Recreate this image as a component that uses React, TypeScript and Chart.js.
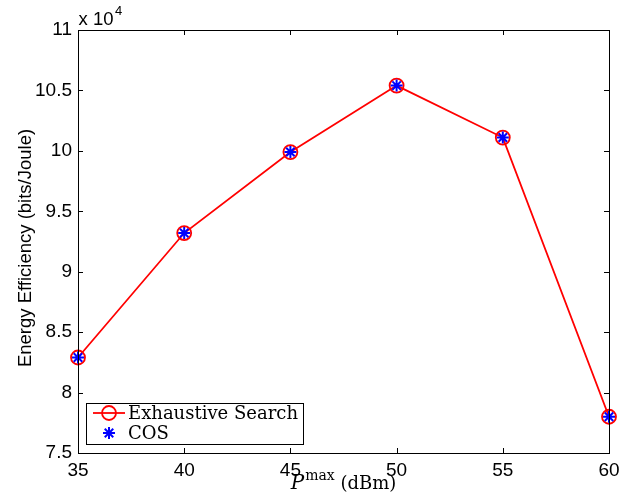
import React, { useEffect, useRef } from "react";
import { Chart, registerables } from "chart.js";

Chart.register(...registerables);

const powerLevels = [35, 40, 45, 50, 55, 60];
const exhaustiveSearch = [82900, 93200, 99900, 105400, 101100, 78000];
const cosValues = [82900, 93200, 99900, 105400, 101100, 78000];
const xTicks = [35, 40, 45, 50, 55, 60];
const yTicks = [75000, 80000, 85000, 90000, 95000, 100000, 105000, 110000];
const yTitle = "Energy Efficiency (bits/Joule)";

const SANS = "'Liberation Sans', Arial, Helvetica, sans-serif";
const SERIF = "'DejaVu Serif', serif";

function drawMarker(ctx: CanvasRenderingContext2D, style: string, r: number, x: number, y: number) {
  ctx.beginPath();
  if (style === "circle") {
    ctx.arc(x, y, r, 0, Math.PI * 2);
  } else {
    for (let k = 0; k < 4; k++) {
      const a = (k * Math.PI) / 4;
      ctx.moveTo(x - r * Math.cos(a), y - r * Math.sin(a));
      ctx.lineTo(x + r * Math.cos(a), y + r * Math.sin(a));
    }
  }
  ctx.stroke();
}

const decorPlugin = {
  id: "decor",
  afterDraw(chart: any) {
    const ctx = chart.ctx as CanvasRenderingContext2D;
    const { left, right, top, bottom } = chart.chartArea;
    const xs = chart.scales.x;
    const ys = chart.scales.y;
    ctx.save();
    ctx.strokeStyle = "#000";
    ctx.lineWidth = 1;
    ctx.strokeRect(Math.round(left) + 0.5, Math.round(top) + 0.5, Math.round(right - left), Math.round(bottom - top));
    const tl = 5;
    ctx.beginPath();
    xTicks.forEach((v) => {
      const px = Math.round(xs.getPixelForValue(v)) + 0.5;
      ctx.moveTo(px, bottom);
      ctx.lineTo(px, bottom - tl);
      ctx.moveTo(px, top);
      ctx.lineTo(px, top + tl);
    });
    yTicks.forEach((v) => {
      const py = Math.round(ys.getPixelForValue(v)) + 0.5;
      ctx.moveTo(left, py);
      ctx.lineTo(left + tl, py);
      ctx.moveTo(right, py);
      ctx.lineTo(right - tl, py);
    });
    ctx.stroke();

    // x 10^4 exponent label
    ctx.fillStyle = "#000";
    ctx.textBaseline = "alphabetic";
    ctx.textAlign = "left";
    ctx.font = `18.5px ${SANS}`;
    ctx.fillText("x 10", left + 0.5, top - 5);
    const w10 = ctx.measureText("x 10").width;
    ctx.font = `13px ${SANS}`;
    ctx.fillText("4", left + 0.5 + w10 + 1.5, top - 15);

    // y title
    ctx.save();
    ctx.translate(26, 248);
    ctx.rotate(-Math.PI / 2);
    ctx.font = `18.5px ${SANS}`;
    ctx.textAlign = "center";
    ctx.textBaseline = "middle";
    ctx.fillText(yTitle, 0, 0);
    ctx.restore();

    // x title: P^max (dBm)
    const baseY = 489;
    ctx.font = `italic 20px ${SERIF}`;
    const wP = ctx.measureText("P").width;
    ctx.font = `14px ${SERIF}`;
    const wMax = ctx.measureText("max").width;
    ctx.font = `18px ${SERIF}`;
    const wRest = ctx.measureText(" (dBm)").width;
    const total = wP + 1 + wMax + wRest;
    let x0 = (left + right) / 2 - total / 2;
    ctx.font = `italic 20px ${SERIF}`;
    ctx.fillText("P", x0, baseY);
    x0 += wP + 1;
    ctx.font = `14px ${SERIF}`;
    ctx.fillText("max", x0, baseY - 9);
    x0 += wMax;
    ctx.font = `18px ${SERIF}`;
    ctx.fillText(" (dBm)", x0, baseY);

    // legend
    const lx = 86, ly = 403, lw = 217, lh = 41;
    ctx.fillStyle = "#fff";
    ctx.fillRect(lx, ly, lw, lh);
    ctx.strokeStyle = "#000";
    ctx.lineWidth = 1;
    ctx.strokeRect(lx + 0.5, ly + 0.5, lw, lh);
    const ds = chart.data.datasets;
    const rows = [413, 433];
    ds.forEach((d: any, i: number) => {
      const cy = rows[i];
      if (d.showLine !== false) {
        ctx.strokeStyle = d.borderColor;
        ctx.lineWidth = d.borderWidth;
        ctx.beginPath();
        ctx.moveTo(93, cy);
        ctx.lineTo(125, cy);
        ctx.stroke();
      }
      ctx.strokeStyle = d.pointBorderColor;
      ctx.lineWidth = d.pointBorderWidth;
      drawMarker(ctx, d.pointStyle, d.pointRadius, 109, cy);
    });
    ctx.font = `18px ${SERIF}`;
    ctx.fillStyle = "#000";
    ctx.textBaseline = "middle";
    ctx.textAlign = "left";
    ds.forEach((d: any, i: number) => {
      ctx.fillText(d.label, 128, rows[i] + 1);
    });
    ctx.restore();
  },
};

export default function App() {
  const ref = useRef<HTMLCanvasElement>(null);
  useEffect(() => {
    document.body.style.margin = "0";
    const canvas = ref.current!;
    const chart = new Chart(canvas, {
      type: "line",
      data: {
        datasets: [
          {
            label: "Exhaustive Search",
            data: powerLevels.map((x, i) => ({ x, y: exhaustiveSearch[i] })),
            borderColor: "#ff0000",
            backgroundColor: "rgba(0,0,0,0)",
            borderWidth: 1.8,
            pointStyle: "circle",
            pointRadius: 7,
            pointBorderWidth: 1.8,
            pointBorderColor: "#ff0000",
            pointBackgroundColor: "rgba(0,0,0,0)",
            tension: 0,
            clip: false,
            order: 1,
          },
          {
            label: "COS",
            data: powerLevels.map((x, i) => ({ x, y: cosValues[i] })),
            showLine: false,
            borderColor: "#0000ff",
            backgroundColor: "#0000ff",
            pointStyle: "star",
            pointRadius: 6,
            pointBorderWidth: 2,
            pointBorderColor: "#0000ff",
            clip: false,
            order: 0,
          },
        ],
      },
      options: {
        animation: false,
        responsive: false,
        devicePixelRatio: 1,
        layout: { padding: { left: 0, top: 30, right: 35, bottom: 0 } },
        plugins: { legend: { display: false }, tooltip: { enabled: false } },
        scales: {
          x: {
            type: "linear",
            min: 35,
            max: 60,
            grid: { display: false, drawTicks: false },
            border: { display: false },
            ticks: {
              stepSize: 5,
              padding: 6,
              color: "#000",
              font: { family: SANS, size: 19 },
              maxRotation: 0,
            },
            afterFit: (s: any) => {
              s.height = 49;
            },
          },
          y: {
            type: "linear",
            min: 75000,
            max: 110000,
            grid: { display: false, drawTicks: false },
            border: { display: false },
            ticks: {
              stepSize: 5000,
              padding: 6,
              color: "#000",
              font: { family: SANS, size: 19 },
              callback: (v: any) => String(Number(v) / 10000),
            },
            afterFit: (s: any) => {
              s.width = 78;
            },
          },
        },
      },
      plugins: [decorPlugin],
    } as any);
    return () => chart.destroy();
  }, []);
  return (
    <div style={{ position: "absolute", left: 0, top: 0, width: 644, height: 502, background: "#fff" }}>
      <canvas ref={ref} width={644} height={502} />
    </div>
  );
}
